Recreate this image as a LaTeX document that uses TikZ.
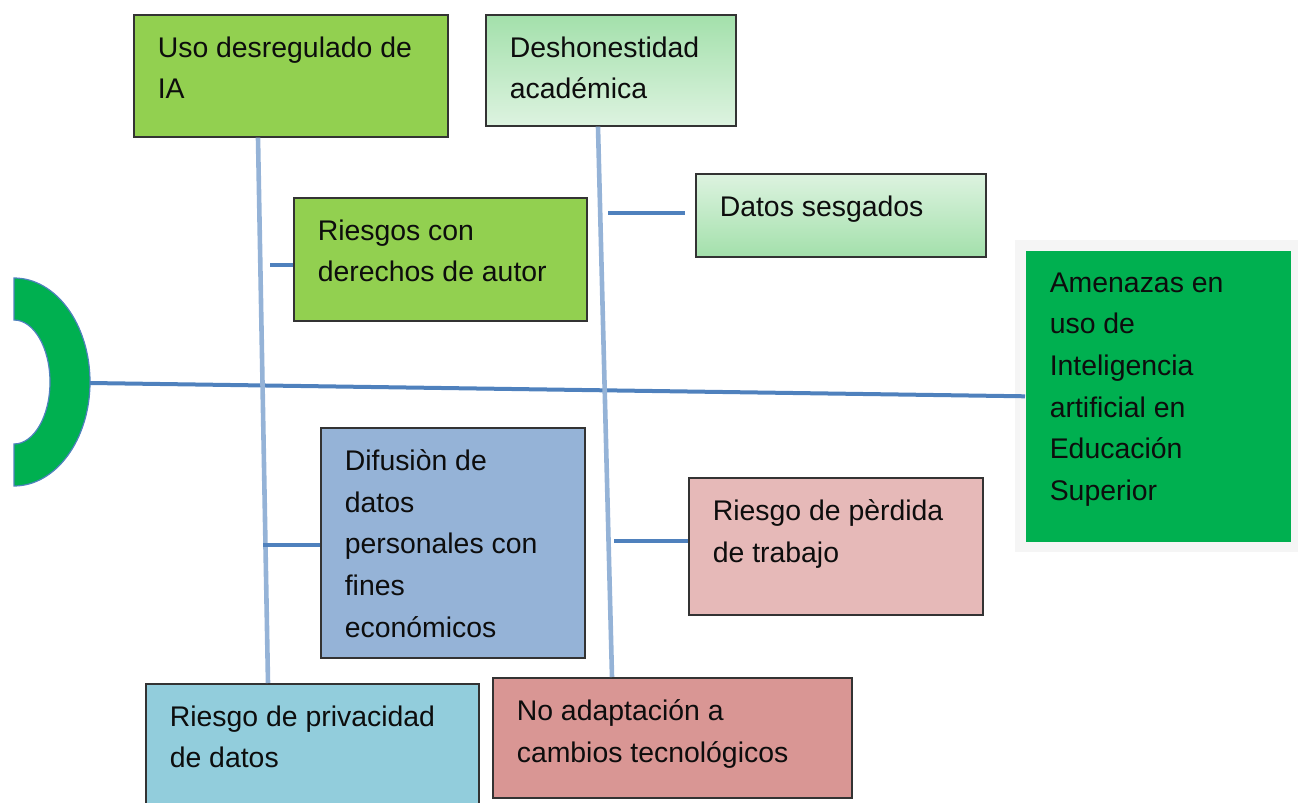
\documentclass[tikz,border=0pt]{standalone}
\usepackage{fontspec}
\setmainfont{Liberation Sans}
\usepackage{xcolor}
\usepackage{tikz}

\definecolor{lima}{HTML}{92D050}
\definecolor{headgreen}{HTML}{00B050}
\definecolor{bonelight}{HTML}{95B3D7}
\definecolor{spine}{HTML}{4F81BD}
\definecolor{mint}{HTML}{A3E0AB}
\definecolor{mintpale}{HTML}{DDF3E0}
\definecolor{steel}{HTML}{95B3D7}
\definecolor{rose}{HTML}{E6B9B8}
\definecolor{sky}{HTML}{92CDDC}
\definecolor{salmon}{HTML}{D99694}

\newcommand{\boxtext}[3]{\parbox[t][#2][t]{#1}{\raggedright #3}}

\begin{document}
\begin{tikzpicture}[x=0.5pt,y=-0.5pt,
		risk/.style={draw=black!80, line width=0.8pt, anchor=north west, inner xsep=12pt, inner ysep=11pt, font=\fontsize{14.2}{20.8}\selectfont, text=black!95},
		bone/.style={bonelight, line width=2.3pt},
		twig/.style={spine, line width=2pt}]
			\useasboundingbox (0,0) rectangle (1298,803);
			\fill[gray!8] (1015,240) rectangle (1298,552);
			
			\coordinate (head) at (90,383);
			\coordinate (j1) at (270,265);
			\coordinate (j2) at (608,213);
			\coordinate (j3) at (263,545);
			\coordinate (j4) at (614,541);
			
			\node[risk, fill=lima] (uso) at (133,14) {\boxtext{133pt}{39pt}{Uso desregulado de\\IA}};
			\node[risk, top color=mint, bottom color=mintpale] (desh) at (485,14) {\boxtext{101pt}{33.5pt}{Deshonestidad\\académica}};
			\node[risk, top color=mintpale, bottom color=mint] (datos) at (695,173) {\boxtext{121pt}{19.5pt}{Datos sesgados}};
			\node[risk, fill=lima] (riesgos) at (293,197) {\boxtext{122.5pt}{39.5pt}{Riesgos con\\derechos de autor}};
			\node[risk, fill=headgreen, draw=none] (amen) at (1025,250) {\boxtext{108.5pt}{123.5pt}{Amenazas en\\uso de\\Inteligencia\\artificial en\\Educación\\Superior}};
			\node[risk, fill=steel] (difusion) at (320,427) {\boxtext{108pt}{93pt}{Difusiòn de\\datos\\personales con\\fines\\económicos}};
			\node[risk, fill=rose] (perdida) at (688,477) {\boxtext{123pt}{46.5pt}{Riesgo de pèrdida\\de trabajo}};
			\node[risk, fill=sky] (priv) at (145,683) {\boxtext{142.5pt}{40pt}{Riesgo de privacidad\\de datos}};
			\node[risk, fill=salmon] (noadapt) at (492,677) {\boxtext{155.5pt}{38pt}{No adaptación a\\cambios tecnológicos}};
			
			\draw[twig] (head) -- (amen.west);
			\draw[bone] ([xshift=62.5pt]uso.south west) -- ([xshift=61.5pt]priv.north west);
			\draw[bone] ([xshift=56.5pt]desh.south west) -- ([xshift=60pt]noadapt.north west);
			\foreach \j/\b in {j1/riesgos,j3/difusion,j4/perdida}{
				\draw[twig] (\j) -- (\j -| \b.west);
			}
			\draw[twig] (j2) -- ([xshift=-5pt]j2 -| datos.west);
			
			\filldraw[fill=headgreen, draw=spine, line width=0.6pt] (14,278) arc[start angle=-90, end angle=90, x radius=76, y radius=104] -- (14,444) arc[start angle=90, end angle=-90, x radius=36, y radius=62] -- cycle;
		\end{tikzpicture}
\end{document}
